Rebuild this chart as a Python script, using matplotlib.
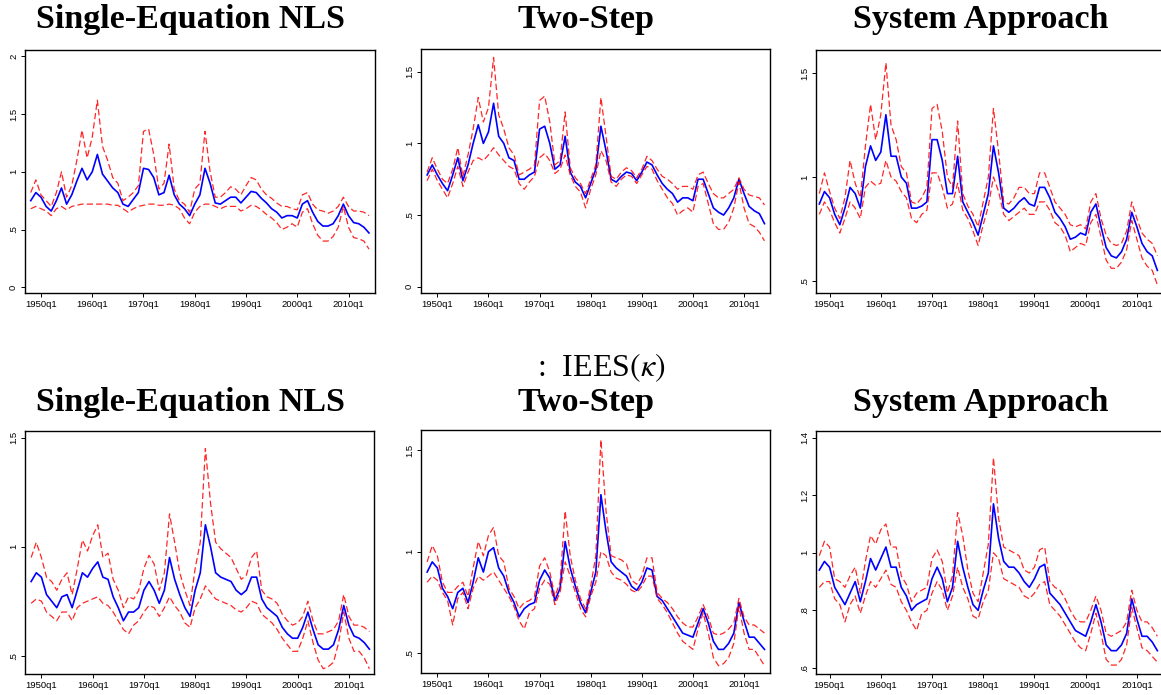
import matplotlib
matplotlib.use("Agg")
import matplotlib.pyplot as plt

plt.rcParams['mathtext.fontset'] = 'stix'

W, H = 1161, 695

years = list(range(1948, 2015))

# top row
nls1_est = [0.75, 0.82, 0.78, 0.70, 0.66, 0.75, 0.86, 0.72, 0.80, 0.92,
            1.03, 0.93, 1.00, 1.15, 0.98, 0.92, 0.86, 0.82, 0.72, 0.70,
            0.76, 0.82, 1.03, 1.02, 0.95, 0.80, 0.82, 0.97, 0.80, 0.72,
            0.68, 0.62, 0.72, 0.80, 1.03, 0.90, 0.73, 0.72, 0.75, 0.78,
            0.78, 0.73, 0.78, 0.83, 0.82, 0.77, 0.73, 0.68, 0.65, 0.60,
            0.62, 0.62, 0.60, 0.72, 0.75, 0.65, 0.57, 0.53, 0.53, 0.55,
            0.62, 0.72, 0.62, 0.56, 0.55, 0.52, 0.47]
nls1_hi = [0.82, 0.93, 0.80, 0.75, 0.70, 0.82, 1.00, 0.78, 0.88, 1.10,
           1.36, 1.12, 1.30, 1.62, 1.22, 1.10, 0.95, 0.90, 0.75, 0.78,
           0.82, 0.88, 1.35, 1.37, 1.15, 0.85, 0.90, 1.24, 0.85, 0.75,
           0.72, 0.65, 0.85, 0.90, 1.35, 1.00, 0.78, 0.78, 0.82, 0.87,
           0.85, 0.80, 0.88, 0.95, 0.93, 0.85, 0.80, 0.77, 0.73, 0.70,
           0.70, 0.68, 0.67, 0.80, 0.82, 0.72, 0.67, 0.66, 0.64, 0.66,
           0.70, 0.78, 0.70, 0.66, 0.66, 0.65, 0.62]
nls1_lo = [0.68, 0.70, 0.68, 0.66, 0.62, 0.68, 0.70, 0.67, 0.70, 0.71,
           0.72, 0.72, 0.72, 0.72, 0.72, 0.72, 0.71, 0.71, 0.68, 0.65,
           0.68, 0.70, 0.71, 0.72, 0.72, 0.71, 0.71, 0.72, 0.71, 0.68,
           0.60, 0.55, 0.65, 0.70, 0.72, 0.72, 0.70, 0.68, 0.70, 0.70,
           0.70, 0.66, 0.68, 0.71, 0.70, 0.67, 0.63, 0.60, 0.56, 0.50,
           0.52, 0.55, 0.52, 0.65, 0.68, 0.55, 0.45, 0.40, 0.40, 0.44,
           0.52, 0.70, 0.52, 0.43, 0.42, 0.40, 0.33]

two1_est = [0.78, 0.85, 0.78, 0.72, 0.67, 0.78, 0.90, 0.74, 0.85, 1.00,
            1.13, 1.00, 1.08, 1.28, 1.05, 1.00, 0.90, 0.88, 0.75, 0.75,
            0.78, 0.80, 1.10, 1.12, 1.00, 0.82, 0.85, 1.05, 0.80, 0.73,
            0.70, 0.62, 0.72, 0.82, 1.12, 0.95, 0.75, 0.73, 0.77, 0.80,
            0.79, 0.74, 0.80, 0.87, 0.85, 0.78, 0.72, 0.68, 0.65, 0.59,
            0.62, 0.62, 0.60, 0.75, 0.75, 0.65, 0.55, 0.52, 0.50, 0.55,
            0.62, 0.75, 0.65, 0.56, 0.53, 0.51, 0.44]
two1_hi = [0.80, 0.90, 0.82, 0.75, 0.72, 0.82, 0.97, 0.77, 0.92, 1.10,
           1.32, 1.15, 1.25, 1.60, 1.20, 1.10, 0.97, 0.92, 0.78, 0.80,
           0.82, 0.85, 1.30, 1.33, 1.15, 0.85, 0.88, 1.22, 0.83, 0.76,
           0.72, 0.65, 0.75, 0.85, 1.32, 1.05, 0.77, 0.75, 0.80, 0.83,
           0.81, 0.76, 0.82, 0.91, 0.88, 0.82, 0.77, 0.75, 0.72, 0.68,
           0.70, 0.70, 0.68, 0.78, 0.80, 0.72, 0.65, 0.62, 0.62, 0.65,
           0.68, 0.76, 0.68, 0.64, 0.63, 0.62, 0.57]
two1_lo = [0.74, 0.82, 0.74, 0.68, 0.62, 0.72, 0.84, 0.70, 0.80, 0.88,
           0.90, 0.88, 0.92, 0.97, 0.92, 0.88, 0.84, 0.82, 0.72, 0.68,
           0.73, 0.77, 0.90, 0.93, 0.88, 0.79, 0.82, 0.92, 0.78, 0.70,
           0.66, 0.55, 0.68, 0.78, 0.95, 0.88, 0.73, 0.70, 0.75, 0.78,
           0.77, 0.72, 0.78, 0.84, 0.82, 0.74, 0.68, 0.62, 0.58, 0.50,
           0.53, 0.55, 0.52, 0.70, 0.72, 0.58, 0.44, 0.40, 0.40, 0.45,
           0.55, 0.73, 0.55, 0.44, 0.42, 0.38, 0.32]

sys1_est = [0.87, 0.93, 0.90, 0.82, 0.77, 0.85, 0.95, 0.92, 0.85, 1.05,
            1.15, 1.08, 1.12, 1.30, 1.10, 1.10, 1.00, 0.97, 0.85, 0.85,
            0.86, 0.88, 1.18, 1.18, 1.08, 0.92, 0.92, 1.10, 0.88, 0.83,
            0.78, 0.72, 0.82, 0.92, 1.15, 1.02, 0.85, 0.83, 0.85, 0.88,
            0.90, 0.87, 0.86, 0.95, 0.95, 0.90, 0.83, 0.80, 0.76, 0.70,
            0.71, 0.73, 0.72, 0.83, 0.87, 0.76, 0.66, 0.62, 0.61, 0.64,
            0.70, 0.83, 0.76, 0.68, 0.64, 0.62, 0.55]
sys1_hi = [0.92, 1.02, 0.93, 0.85, 0.80, 0.90, 1.08, 0.97, 0.90, 1.15,
           1.35, 1.18, 1.30, 1.55, 1.25, 1.18, 1.05, 1.02, 0.88, 0.87,
           0.90, 0.95, 1.33, 1.35, 1.22, 1.00, 0.95, 1.27, 0.92, 0.86,
           0.82, 0.76, 0.88, 1.00, 1.33, 1.12, 0.88, 0.87, 0.90, 0.95,
           0.95, 0.92, 0.92, 1.02, 1.02, 0.95, 0.88, 0.85, 0.82, 0.77,
           0.76, 0.77, 0.75, 0.88, 0.92, 0.80, 0.72, 0.68, 0.67, 0.68,
           0.74, 0.88, 0.80, 0.73, 0.70, 0.68, 0.62]
sys1_lo = [0.82, 0.88, 0.84, 0.78, 0.73, 0.80, 0.88, 0.85, 0.80, 0.95,
           0.98, 0.96, 0.97, 1.08, 1.00, 0.98, 0.93, 0.90, 0.80, 0.78,
           0.82, 0.84, 1.02, 1.02, 0.95, 0.85, 0.87, 0.97, 0.84, 0.80,
           0.74, 0.67, 0.77, 0.86, 1.00, 0.93, 0.82, 0.79, 0.81, 0.83,
           0.85, 0.82, 0.82, 0.88, 0.88, 0.84, 0.78, 0.76, 0.72, 0.64,
           0.66, 0.68, 0.67, 0.78, 0.82, 0.71, 0.60, 0.56, 0.56, 0.59,
           0.65, 0.79, 0.70, 0.61, 0.57, 0.55, 0.48]

# bottom row
nls2_est = [0.84, 0.88, 0.86, 0.78, 0.75, 0.72, 0.77, 0.78, 0.72, 0.80,
            0.88, 0.86, 0.90, 0.93, 0.86, 0.85, 0.77, 0.72, 0.66, 0.70,
            0.70, 0.72, 0.80, 0.84, 0.80, 0.74, 0.80, 0.95, 0.85, 0.78,
            0.72, 0.68, 0.80, 0.88, 1.10, 1.00, 0.88, 0.86, 0.85, 0.84,
            0.80, 0.78, 0.80, 0.86, 0.86, 0.76, 0.72, 0.70, 0.68, 0.63,
            0.60, 0.58, 0.58, 0.63, 0.70, 0.62, 0.55, 0.53, 0.53, 0.55,
            0.62, 0.73, 0.64, 0.59, 0.58, 0.56, 0.53]
nls2_hi = [0.95, 1.02, 0.95, 0.86, 0.84, 0.80, 0.85, 0.88, 0.78, 0.90,
           1.03, 0.98, 1.05, 1.10, 0.95, 0.97, 0.85, 0.80, 0.72, 0.77,
           0.76, 0.80, 0.90, 0.96, 0.92, 0.80, 0.88, 1.15, 1.02, 0.88,
           0.80, 0.73, 0.90, 1.02, 1.45, 1.20, 1.02, 0.99, 0.97, 0.95,
           0.90, 0.85, 0.87, 0.95, 0.98, 0.80, 0.77, 0.76, 0.74, 0.69,
           0.66, 0.64, 0.65, 0.68, 0.75, 0.66, 0.60, 0.60, 0.61, 0.62,
           0.66, 0.78, 0.68, 0.64, 0.64, 0.63, 0.61]
nls2_lo = [0.74, 0.76, 0.75, 0.70, 0.68, 0.66, 0.70, 0.70, 0.66, 0.72,
           0.74, 0.75, 0.76, 0.77, 0.74, 0.73, 0.70, 0.66, 0.62, 0.60,
           0.64, 0.66, 0.70, 0.73, 0.72, 0.68, 0.72, 0.77, 0.73, 0.70,
           0.65, 0.63, 0.72, 0.76, 0.82, 0.79, 0.76, 0.75, 0.74, 0.73,
           0.71, 0.70, 0.72, 0.75, 0.74, 0.69, 0.67, 0.65, 0.62, 0.58,
           0.55, 0.52, 0.52, 0.58, 0.66, 0.56, 0.48, 0.44, 0.45, 0.47,
           0.56, 0.70, 0.58, 0.52, 0.52, 0.49, 0.44]

two2_est = [0.90, 0.95, 0.92, 0.82, 0.78, 0.72, 0.80, 0.82, 0.75, 0.85,
            0.97, 0.90, 1.00, 1.02, 0.92, 0.88, 0.80, 0.75, 0.68, 0.72,
            0.74, 0.75, 0.86, 0.91, 0.87, 0.76, 0.82, 1.05, 0.92, 0.83,
            0.75, 0.70, 0.80, 0.90, 1.28, 1.10, 0.95, 0.92, 0.90, 0.88,
            0.83, 0.81, 0.85, 0.92, 0.91, 0.78, 0.76, 0.72, 0.68, 0.64,
            0.60, 0.59, 0.58, 0.65, 0.72, 0.65, 0.56, 0.52, 0.52, 0.55,
            0.60, 0.75, 0.66, 0.58, 0.58, 0.55, 0.52]
two2_hi = [0.95, 1.03, 0.98, 0.85, 0.80, 0.80, 0.83, 0.85, 0.78, 0.92,
           1.05, 0.98, 1.08, 1.12, 0.98, 0.95, 0.82, 0.78, 0.72, 0.75,
           0.76, 0.78, 0.93, 0.97, 0.90, 0.78, 0.85, 1.20, 0.98, 0.86,
           0.77, 0.72, 0.83, 0.98, 1.55, 1.20, 0.98, 0.97, 0.96, 0.94,
           0.86, 0.84, 0.88, 0.97, 0.97, 0.80, 0.77, 0.75, 0.72, 0.68,
           0.65, 0.63, 0.63, 0.68, 0.74, 0.68, 0.60, 0.59, 0.60, 0.62,
           0.65, 0.77, 0.68, 0.64, 0.64, 0.62, 0.60]
two2_lo = [0.85, 0.88, 0.86, 0.80, 0.76, 0.64, 0.77, 0.80, 0.72, 0.82,
           0.88, 0.86, 0.88, 0.90, 0.86, 0.82, 0.78, 0.73, 0.66, 0.62,
           0.70, 0.72, 0.82, 0.86, 0.84, 0.74, 0.80, 0.95, 0.88, 0.80,
           0.72, 0.68, 0.78, 0.85, 1.00, 0.98, 0.90, 0.87, 0.86, 0.84,
           0.81, 0.80, 0.83, 0.88, 0.88, 0.77, 0.74, 0.70, 0.65, 0.60,
           0.56, 0.54, 0.52, 0.62, 0.70, 0.60, 0.48, 0.44, 0.45, 0.48,
           0.55, 0.73, 0.60, 0.52, 0.52, 0.48, 0.44]

sys2_est = [0.94, 0.97, 0.95, 0.88, 0.85, 0.82, 0.86, 0.90, 0.83, 0.90,
            0.98, 0.94, 0.98, 1.02, 0.95, 0.95, 0.88, 0.85, 0.80, 0.82,
            0.83, 0.84, 0.91, 0.95, 0.91, 0.83, 0.88, 1.04, 0.95, 0.88,
            0.82, 0.80, 0.87, 0.93, 1.17, 1.05, 0.97, 0.95, 0.95, 0.93,
            0.90, 0.88, 0.91, 0.95, 0.96, 0.86, 0.84, 0.82, 0.79, 0.76,
            0.73, 0.72, 0.71, 0.76, 0.82, 0.76, 0.68, 0.66, 0.66, 0.68,
            0.72, 0.84, 0.77, 0.71, 0.71, 0.69, 0.66]
sys2_hi = [0.99, 1.04, 1.02, 0.91, 0.90, 0.88, 0.92, 0.95, 0.86, 0.97,
           1.06, 1.03, 1.08, 1.10, 1.02, 1.02, 0.92, 0.89, 0.83, 0.86,
           0.87, 0.88, 0.98, 1.01, 0.97, 0.86, 0.92, 1.14, 1.06, 0.94,
           0.86, 0.83, 0.93, 1.03, 1.33, 1.12, 1.02, 1.01, 1.00, 0.99,
           0.94, 0.93, 0.95, 1.01, 1.02, 0.90, 0.88, 0.87, 0.84, 0.80,
           0.77, 0.76, 0.76, 0.80, 0.85, 0.80, 0.72, 0.71, 0.72, 0.73,
           0.76, 0.87, 0.80, 0.76, 0.76, 0.74, 0.71]
sys2_lo = [0.88, 0.90, 0.90, 0.84, 0.82, 0.76, 0.82, 0.85, 0.79, 0.85,
           0.90, 0.88, 0.91, 0.94, 0.89, 0.88, 0.83, 0.80, 0.76, 0.73,
           0.79, 0.80, 0.86, 0.90, 0.87, 0.80, 0.85, 0.95, 0.88, 0.84,
           0.78, 0.77, 0.83, 0.87, 1.00, 0.98, 0.91, 0.90, 0.89, 0.88,
           0.85, 0.84, 0.86, 0.89, 0.90, 0.82, 0.80, 0.78, 0.75, 0.72,
           0.69, 0.67, 0.66, 0.72, 0.79, 0.72, 0.63, 0.61, 0.61, 0.63,
           0.68, 0.81, 0.74, 0.67, 0.66, 0.64, 0.62]

titles = ['Single-Equation NLS', 'Two-Step', 'System Approach']
xtick_years = [1950, 1960, 1970, 1980, 1990, 2000, 2010]

# (series, yticks, ylim, xlim, box in pixels: left, top, right, bottom)
panels = [
    (nls1_est, nls1_lo, nls1_hi, [0, .5, 1, 1.5, 2], (-0.05, 2.055), (1946.88, 2015.17), (25, 50, 375, 293)),
    (two1_est, two1_lo, two1_hi, [0, .5, 1, 1.5], (-0.044, 1.659), (1946.8, 2015.08), (421, 49, 770, 293)),
    (sys1_est, sys1_lo, sys1_hi, [.5, 1, 1.5], (0.441, 1.612), (1947.35, 2015.1), (816, 50, 1163, 293)),
    (nls2_est, nls2_lo, nls2_hi, [.5, 1, 1.5], (0.416, 1.530), (1946.8, 2014.9), (25, 431, 374, 674)),
    (two2_est, two2_lo, two2_hi, [.5, 1, 1.5], (0.404, 1.598), (1946.8, 2015.08), (421, 430, 770, 673)),
    (sys2_est, sys2_lo, sys2_hi, [.6, .8, 1, 1.2, 1.4], (0.579, 1.423), (1947.35, 2015.1), (816, 431, 1163, 674)),
]


def stata_label(v):
    s = f"{v:g}"
    if s.startswith('0.'):
        s = s[1:]
    return s


fig = plt.figure(figsize=(W / 100, H / 100), dpi=100)

for est, lo, hi, yt, ylim, xlim, (l, t, r, b) in panels:
    ax = fig.add_axes([l / W, 1 - b / H, (r - l) / W, (b - t) / H])
    ax.plot(years, est, color='#0000ff', lw=1.2)
    ax.plot(years, hi, color='#ff0000', lw=0.9, ls=(0, (5, 2.5)), alpha=0.85)
    ax.plot(years, lo, color='#ff0000', lw=0.9, ls=(0, (5, 2.5)), alpha=0.85)
    ax.set_xlim(xlim)
    ax.set_ylim(ylim)
    ax.set_xticks(xtick_years)
    ax.set_xticklabels([f"{y}q1" for y in xtick_years], family='Liberation Sans', fontsize=6.8)
    ax.set_yticks(yt)
    ax.set_yticklabels([stata_label(v) for v in yt], family='Liberation Sans', fontsize=6.8,
                       rotation=90, va='center')
    ax.tick_params(length=3, width=0.7, pad=2)
    for sp in ax.spines.values():
        sp.set_linewidth(1.0)

title_x = [190.5, 586, 980.5]
for row, base in enumerate([28, 411]):
    for x, txt in zip(title_x, titles):
        fig.text(x / W, 1 - base / H, txt, ha='center', va='baseline',
                 family='Liberation Serif', weight='bold', fontsize=24.5)

fig.text(601 / W, 1 - 376 / H, r':  IEES$(\kappa)$', ha='center', va='baseline',
         family='Liberation Serif', fontsize=23)

fig.savefig('out.png', dpi=100)
